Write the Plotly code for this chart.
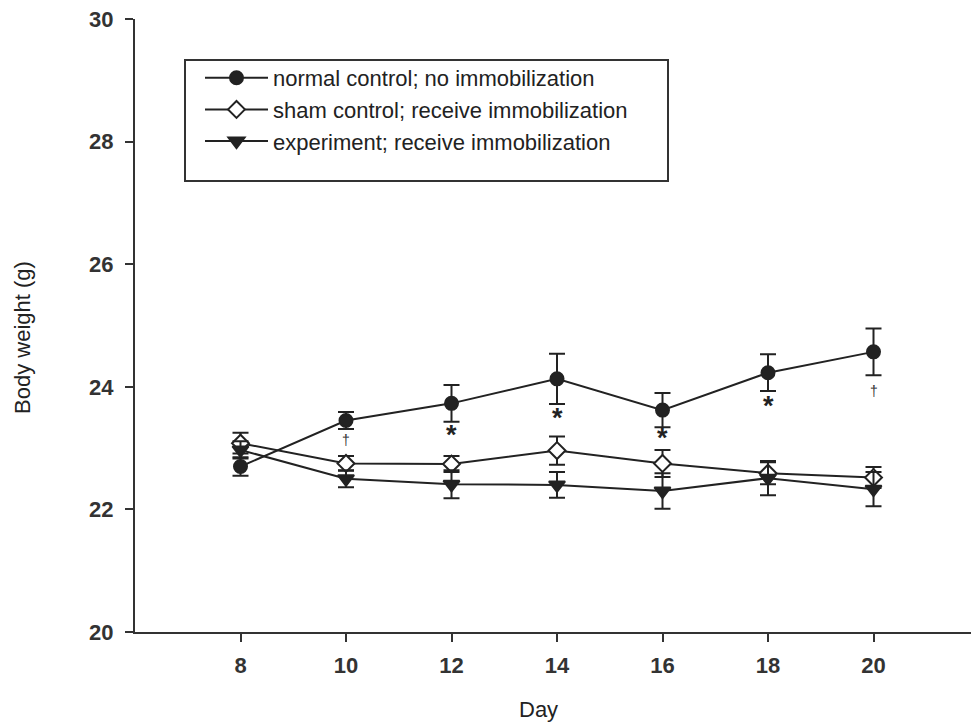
import plotly.graph_objects as go

days = [8, 10, 12, 14, 16, 18, 20]

normal_mean = [22.70, 23.45, 23.73, 24.13, 23.62, 24.23, 24.57]
normal_err = [0.15, 0.14, 0.30, 0.41, 0.28, 0.30, 0.38]

sham_mean = [23.08, 22.75, 22.74, 22.96, 22.75, 22.59, 22.52]
sham_err = [0.17, 0.12, 0.13, 0.23, 0.22, 0.18, 0.17]

exp_mean = [22.97, 22.50, 22.41, 22.40, 22.30, 22.51, 22.33]
exp_err = [0.14, 0.14, 0.23, 0.21, 0.29, 0.28, 0.28]

series_names = [
    "normal control; no immobilization",
    "sham control; receive immobilization",
    "experiment; receive immobilization",
]

sig_days = [10, 12, 14, 16, 18, 20]
sig_marks = ["†", "*", "*", "*", "*", "†"]
sig_y = [23.13, 23.25, 23.53, 23.20, 23.72, 23.93]

y_ticks = [20, 22, 24, 26, 28, 30]

INK = "#222222"
AX = "#333333"

fig = go.Figure()

def add_series(name, y, err, symbol, fill, size):
    fig.add_trace(go.Scatter(
        x=days, y=y, name=name, mode="lines+markers",
        line=dict(color=INK, width=2),
        marker=dict(symbol=symbol, size=size, color=fill,
                    line=dict(color=INK, width=2)),
        error_y=dict(type="data", array=err, visible=True,
                     color=INK, thickness=2, width=8),
    ))

add_series(series_names[0], normal_mean, normal_err, "circle", INK, 13)
add_series(series_names[1], sham_mean, sham_err, "diamond", "white", 13)
add_series(series_names[2], exp_mean, exp_err, "triangle-down", INK, 14)

for d, m, yv in zip(sig_days, sig_marks, sig_y):
    if m == "*":
        fig.add_annotation(x=d, y=yv, text="<b>*</b>", showarrow=False,
                           font=dict(family="Arial", size=27, color=INK),
                           yshift=-2)
    else:
        fig.add_annotation(x=d, y=yv, text=m, showarrow=False,
                           font=dict(family="Arial", size=14, color="#333333"))

# legend frame (positions expressed relative to the plot area)
fig.add_shape(type="rect", xref="paper", yref="paper",
              x0=(185 - 135) / 844, x1=(668 - 135) / 844,
              y0=(632 - 181) / 613, y1=(632 - 60) / 613,
              line=dict(color=AX, width=2), fillcolor="rgba(0,0,0,0)")

fig.add_annotation(text="Day", xref="paper", yref="paper",
                   x=(538 - 135) / 844, y=(632 - 709) / 613,
                   showarrow=False, xanchor="center", yanchor="middle",
                   font=dict(family="Arial", size=22, color=INK))
fig.add_annotation(text="Body weight (g)", xref="paper", yref="paper",
                   x=(23 - 135) / 844, y=(632 - 337) / 613, textangle=-90,
                   showarrow=False, xanchor="center", yanchor="middle",
                   font=dict(family="Arial", size=22, color=INK))

fig.update_layout(
    width=971, height=714,
    margin=dict(l=127, r=0, t=11, b=90),
    plot_bgcolor="white", paper_bgcolor="white",
    showlegend=True,
    legend=dict(x=(200 - 135) / 844, y=(632 - 57) / 613,
                xanchor="left", yanchor="top",
                bgcolor="rgba(0,0,0,0)", borderwidth=0,
                font=dict(family="Arial", size=22, color=INK),
                itemwidth=63),
    xaxis=dict(range=[6, 22], tickvals=days, showgrid=False, zeroline=False,
               showline=True, linecolor=AX, linewidth=2,
               ticks="outside", ticklen=8, tickwidth=2, tickcolor=AX,
               tickfont=dict(family="Arial", size=22, color=AX, weight="bold"),
               ticklabelstandoff=5, ticklabeloverflow="allow"),
    yaxis=dict(range=[20, 30], tickvals=y_ticks, showgrid=False, zeroline=False,
               showline=True, linecolor=AX, linewidth=2,
               ticks="outside", ticklen=8, tickwidth=2, tickcolor=AX,
               tickfont=dict(family="Arial", size=22, color=AX, weight="bold"),
               ticklabelstandoff=7, ticklabeloverflow="allow"),
)

fig.write_html("out.html")
